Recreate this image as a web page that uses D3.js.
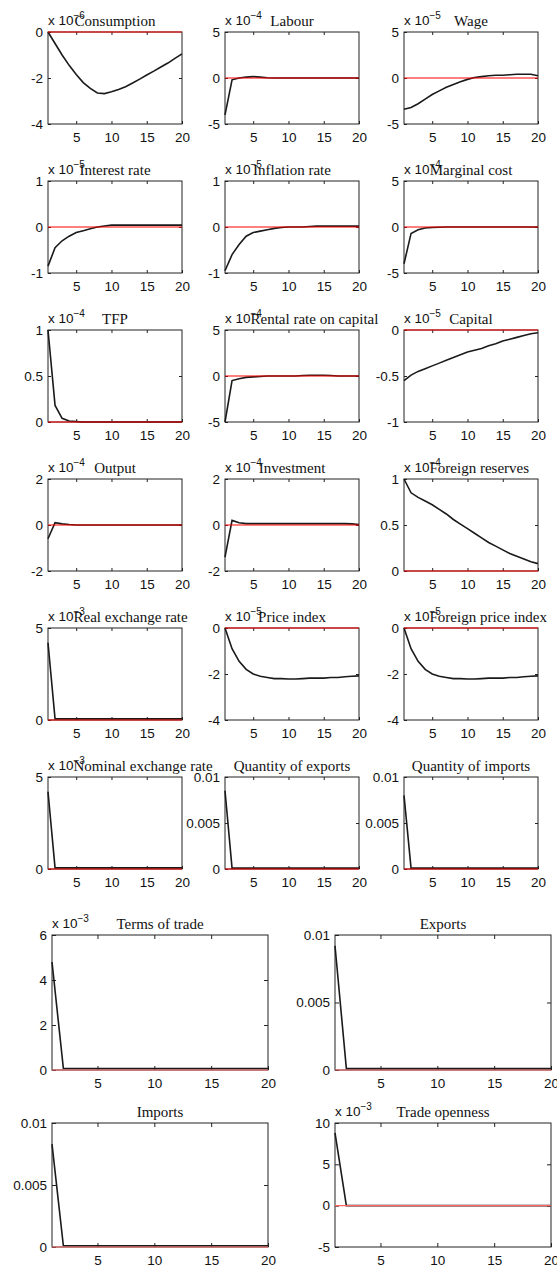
<!DOCTYPE html>
<html>
<head>
<meta charset="utf-8">
<style>
    body { margin: 0; background: #fff; }
    .tick text { font-family: "Liberation Sans", Arial, sans-serif; font-size: 13.5px; fill: #111; }
    .tick line { stroke: #222; }
    .domain { display: none; }
    text.title { font-family: "Liberation Serif", "Times New Roman", serif; font-size: 15px; fill: #111; }
    text.expo { font-family: "Liberation Sans", Arial, sans-serif; font-size: 13.5px; fill: #111; }
    rect.box { fill: none; stroke: #222; stroke-width: 1; }
    path.irf { fill: none; stroke: #1a1a1a; stroke-width: 1.6; }
    line.zero { stroke: #f00; stroke-width: 1.2; }
</style>
</head>
<body>
<div id="irf"></div>
<script src="https://cdn.jsdelivr.net/npm/d3@7/dist/d3.min.js"></script>
<script>

    // horizon, periods 1..20
    var periods = d3.range(1, 21);
    var xTicks = [5, 10, 15, 20];

    // responses, in units of the panel's 10^exp factor
    var consumption = [0, -0.5, -1.0, -1.45, -1.85, -2.2, -2.45, -2.65, -2.68, -2.6, -2.5, -2.38, -2.22, -2.05, -1.87, -1.7, -1.52, -1.35, -1.15, -0.95];
    var labour = [-4.0, -0.2, 0, 0.1, 0.15, 0.1, 0.03, 0, 0, 0, 0, 0, 0, 0, 0, 0, 0, 0, 0, 0];
    var wage = [-3.4, -3.2, -2.8, -2.3, -1.8, -1.4, -1.0, -0.7, -0.4, -0.15, 0.05, 0.15, 0.25, 0.3, 0.3, 0.35, 0.4, 0.4, 0.4, 0.25];
    var interestRate = [-0.85, -0.45, -0.3, -0.2, -0.12, -0.08, -0.04, 0, 0.02, 0.04, 0.04, 0.04, 0.04, 0.04, 0.04, 0.04, 0.04, 0.04, 0.04, 0.04];
    var inflationRate = [-0.95, -0.6, -0.38, -0.2, -0.12, -0.09, -0.06, -0.03, -0.01, 0, 0, 0, 0.01, 0.02, 0.02, 0.02, 0.02, 0.02, 0.02, 0.02];
    var marginalCost = [-4.0, -0.7, -0.3, -0.1, -0.05, -0.02, 0, 0, 0, 0, 0, 0, 0, 0, 0, 0, 0, 0, 0, 0];
    var tfp = [1.0, 0.18, 0.04, 0.01, 0.005, 0, 0, 0, 0, 0, 0, 0, 0, 0, 0, 0, 0, 0, 0, 0];
    var rentalRate = [-5.0, -0.5, -0.3, -0.15, -0.1, -0.05, 0, 0, 0, 0, 0, 0.05, 0.08, 0.08, 0.08, 0.05, 0, 0, 0, 0];
    var capital = [-0.55, -0.49, -0.45, -0.42, -0.39, -0.36, -0.33, -0.3, -0.27, -0.24, -0.22, -0.2, -0.17, -0.15, -0.12, -0.1, -0.08, -0.06, -0.04, -0.03];
    var output = [-0.6, 0.1, 0.05, 0.02, 0, 0, 0, 0, 0, 0, 0, 0, 0, 0, 0, 0, 0, 0, 0, 0];
    var investment = [-1.4, 0.2, 0.1, 0.06, 0.06, 0.06, 0.06, 0.06, 0.06, 0.06, 0.06, 0.06, 0.06, 0.06, 0.06, 0.06, 0.06, 0.06, 0.05, 0.02];
    var foreignReserves = [1.0, 0.85, 0.8, 0.76, 0.72, 0.67, 0.62, 0.56, 0.51, 0.46, 0.41, 0.36, 0.31, 0.27, 0.23, 0.19, 0.16, 0.13, 0.1, 0.08];
    var realExchangeRate = [4.2, 0.06, 0.06, 0.06, 0.06, 0.06, 0.06, 0.06, 0.06, 0.06, 0.06, 0.06, 0.06, 0.06, 0.06, 0.06, 0.06, 0.06, 0.06, 0.06];
    var priceIndex = [0, -0.9, -1.45, -1.8, -2.0, -2.1, -2.15, -2.2, -2.2, -2.22, -2.22, -2.2, -2.18, -2.18, -2.18, -2.15, -2.15, -2.12, -2.1, -2.08];
    var foreignPriceIndex = [0, -0.9, -1.45, -1.8, -2.0, -2.1, -2.15, -2.2, -2.2, -2.22, -2.22, -2.2, -2.18, -2.18, -2.18, -2.15, -2.15, -2.12, -2.1, -2.08];
    var nominalExchangeRate = [4.2, 0.06, 0.06, 0.06, 0.06, 0.06, 0.06, 0.06, 0.06, 0.06, 0.06, 0.06, 0.06, 0.06, 0.06, 0.06, 0.06, 0.06, 0.06, 0.06];
    var quantityExports = [0.0085, 0.0001, 0.0001, 0.0001, 0.0001, 0.0001, 0.0001, 0.0001, 0.0001, 0.0001, 0.0001, 0.0001, 0.0001, 0.0001, 0.0001, 0.0001, 0.0001, 0.0001, 0.0001, 0.0001];
    var quantityImports = [0.008, 0.0001, 0.0001, 0.0001, 0.0001, 0.0001, 0.0001, 0.0001, 0.0001, 0.0001, 0.0001, 0.0001, 0.0001, 0.0001, 0.0001, 0.0001, 0.0001, 0.0001, 0.0001, 0.0001];
    var termsOfTrade = [4.8, 0.07, 0.07, 0.07, 0.07, 0.07, 0.07, 0.07, 0.07, 0.07, 0.07, 0.07, 0.07, 0.07, 0.07, 0.07, 0.07, 0.07, 0.07, 0.07];
    var exportsV = [0.0092, 0.0001, 0.0001, 0.0001, 0.0001, 0.0001, 0.0001, 0.0001, 0.0001, 0.0001, 0.0001, 0.0001, 0.0001, 0.0001, 0.0001, 0.0001, 0.0001, 0.0001, 0.0001, 0.0001];
    var importsV = [0.0083, 0.0001, 0.0001, 0.0001, 0.0001, 0.0001, 0.0001, 0.0001, 0.0001, 0.0001, 0.0001, 0.0001, 0.0001, 0.0001, 0.0001, 0.0001, 0.0001, 0.0001, 0.0001, 0.0001];
    var tradeOpenness = [8.8, 0, 0, 0, 0, 0, 0, 0, 0, 0, 0, 0, 0, 0, 0, 0, 0, 0, 0, 0];

    var panels = [
        {title: "Consumption", exp: -6, y: [-4, 0], ticks: [-4, -2, 0], values: consumption},
        {title: "Labour", exp: -4, y: [-5, 5], ticks: [-5, 0, 5], values: labour},
        {title: "Wage", exp: -5, y: [-5, 5], ticks: [-5, 0, 5], values: wage},
        {title: "Interest rate", exp: -5, y: [-1, 1], ticks: [-1, 0, 1], values: interestRate},
        {title: "Inflation rate", exp: -5, y: [-1, 1], ticks: [-1, 0, 1], values: inflationRate},
        {title: "Marginal cost", exp: -4, y: [-5, 5], ticks: [-5, 0, 5], values: marginalCost},
        {title: "TFP", exp: -4, y: [0, 1], ticks: [0, 0.5, 1], values: tfp},
        {title: "Rental rate on capital", exp: -4, y: [-5, 5], ticks: [-5, 0, 5], values: rentalRate},
        {title: "Capital", exp: -5, y: [-1, 0], ticks: [-1, -0.5, 0], values: capital},
        {title: "Output", exp: -4, y: [-2, 2], ticks: [-2, 0, 2], values: output},
        {title: "Investment", exp: -4, y: [-2, 2], ticks: [-2, 0, 2], values: investment},
        {title: "Foreign reserves", exp: -4, y: [0, 1], ticks: [0, 0.5, 1], values: foreignReserves},
        {title: "Real exchange rate", exp: -3, y: [0, 5], ticks: [0, 5], values: realExchangeRate},
        {title: "Price index", exp: -5, y: [-4, 0], ticks: [-4, -2, 0], values: priceIndex},
        {title: "Foreign price index", exp: -5, y: [-4, 0], ticks: [-4, -2, 0], values: foreignPriceIndex},
        {title: "Nominal exchange rate", exp: -3, y: [0, 5], ticks: [0, 5], values: nominalExchangeRate},
        {title: "Quantity of exports", exp: null, y: [0, 0.01], ticks: [0, 0.005, 0.01], values: quantityExports},
        {title: "Quantity of imports", exp: null, y: [0, 0.01], ticks: [0, 0.005, 0.01], values: quantityImports},
        {title: "Terms of trade", exp: -3, y: [0, 6], ticks: [0, 2, 4, 6], values: termsOfTrade},
        {title: "Exports", exp: null, y: [0, 0.01], ticks: [0, 0.005, 0.01], values: exportsV},
        {title: "Imports", exp: null, y: [0, 0.01], ticks: [0, 0.005, 0.01], values: importsV},
        {title: "Trade openness", exp: -3, y: [-5, 10], ticks: [-5, 0, 5, 10], values: tradeOpenness}
    ];

    var width = 557, height = 1267;

    var svg = d3.select("#irf").append("svg")
        .attr("width", width)
        .attr("height", height);

    // subplot frames: 6x3 grid, then 2x2 grid
    function frame(i) {
        if (i < 18) {
            var col = i % 3, row = Math.floor(i / 3);
            return {x: [48, 225, 404][col], y: 32 + row * 149, w: 134, h: 92, tick: 3};
        }
        var j = i - 18;
        return {x: [52, 335][j % 2], y: [935, 1123][Math.floor(j / 2)], w: 216, h: [135, 124][Math.floor(j / 2)], tick: 4};
    }

    function fmt(v) {
        return String(v);
    }

    panels.forEach(function (p, i) {
        var f = frame(i);
        var g = svg.append("g").attr("transform", "translate(" + f.x + "," + f.y + ")");

        var x = d3.scaleLinear().domain([1, 20]).range([0, f.w]);
        var y = d3.scaleLinear().domain(p.y).range([f.h, 0]);

        g.append("rect").attr("class", "box").attr("width", f.w).attr("height", f.h);

        g.append("g").attr("transform", "translate(0," + f.h + ")")
            .call(d3.axisBottom(x).tickValues(xTicks).tickSize(-f.tick).tickPadding(8).tickFormat(fmt));
        g.append("g")
            .call(d3.axisTop(x).tickValues(xTicks.slice(0, 3)).tickSize(-f.tick).tickFormat(""));
        g.append("g")
            .call(d3.axisLeft(y).tickValues(p.ticks).tickSize(-f.tick).tickPadding(5).tickFormat(fmt));
        g.append("g").attr("transform", "translate(" + f.w + ",0)")
            .call(d3.axisRight(y).tickValues(p.ticks.filter(function (t) {
                return t !== p.y[0] && t !== p.y[1];
            })).tickSize(-f.tick).tickFormat(""));

        var line = d3.line()
            .x(function (d, k) { return x(periods[k]); })
            .y(function (d) { return y(d); });

        g.append("path").attr("class", "irf").attr("d", line(p.values));

        g.append("line").attr("class", "zero")
            .attr("x1", x(1)).attr("x2", x(20))
            .attr("y1", y(0)).attr("y2", y(0))
            .style("stroke", i < 18 ? "#f00" : "#f66");

        // exponent label at the top left, title pushed right of it when too long
        var expoW = 0;
        if (p.exp !== null) {
            var t = g.append("text").attr("class", "expo").attr("x", 0).attr("y", -7);
            var base = t.append("tspan").text("x 10");
            t.append("tspan").attr("dy", -6).style("font-size", "10px").text("\u2212" + Math.abs(p.exp));
            expoW = base.node().getComputedTextLength();
        }

        var title = g.append("text").attr("class", "title")
            .attr("y", -6)
            .text(p.title);
        var tw = title.node().getComputedTextLength();
        title.attr("x", Math.max(f.w / 2 - tw / 2, expoW));
    });

</script>
</body>
</html>
